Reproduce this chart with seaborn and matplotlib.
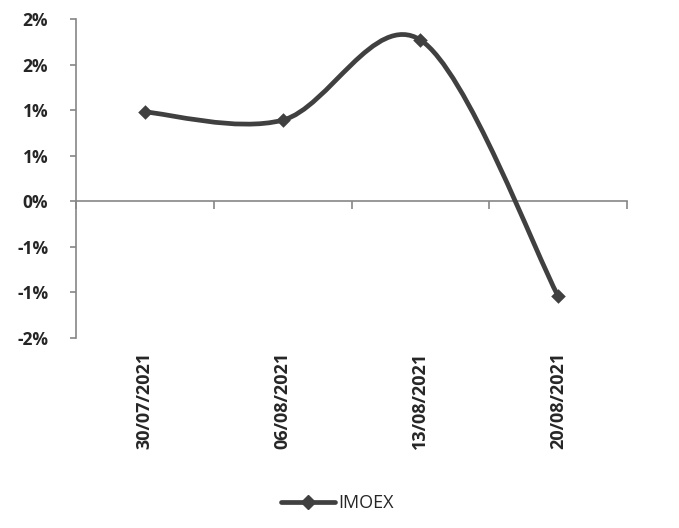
import numpy as np
import matplotlib
matplotlib.use("Agg")
import matplotlib.pyplot as plt
import seaborn as sns
from matplotlib.path import Path
from matplotlib.patches import PathPatch
from matplotlib.lines import Line2D
from matplotlib.ticker import FuncFormatter, FixedLocator

dates = ["30/07/2021", "06/08/2021", "13/08/2021", "20/08/2021"]
imoex = [0.98, 0.89, 1.77, -1.04]   # weekly change, %
series_name = "IMOEX"
y_ticks = [-1.5, -1.0, -0.5, 0.0, 0.5, 1.0, 1.5, 2.0]

line_color = "#404040"
axis_color = "#868686"

sns.set_theme(style="white")
plt.rcParams["font.family"] = ["Open Sans", "DejaVu Sans"]

fig = plt.figure(figsize=(6.79, 5.28), dpi=100)
ax = fig.add_axes([76 / 679, 1 - 338 / 528, 551 / 679, 319 / 528])

xs = np.arange(len(dates), dtype=float)
ys = np.array(imoex, dtype=float)

# smoothed line like excel: cubic bezier, control points from neighbours
verts = [(xs[0], ys[0])]
codes = [Path.MOVETO]
n = len(xs)
for i in range(n - 1):
    p0 = np.array([xs[max(i - 1, 0)], ys[max(i - 1, 0)]])
    p1 = np.array([xs[i], ys[i]])
    p2 = np.array([xs[i + 1], ys[i + 1]])
    p3 = np.array([xs[min(i + 2, n - 1)], ys[min(i + 2, n - 1)]])
    c1 = p1 + (p2 - p0) / 6
    c2 = p2 - (p3 - p1) / 6
    verts += [tuple(c1), tuple(c2), tuple(p2)]
    codes += [Path.CURVE4] * 3
ax.add_patch(PathPatch(Path(verts, codes), facecolor="none", edgecolor=line_color,
                       lw=3.4, capstyle="round", joinstyle="round", zorder=3))

sns.scatterplot(x=xs, y=ys, marker="D", s=55, color=line_color, edgecolor=line_color,
                linewidth=0, zorder=4, ax=ax)

ax.set_xlim(-0.5, len(dates) - 0.5)
ax.set_ylim(y_ticks[0], y_ticks[-1])

for s in ["top", "right"]:
    ax.spines[s].set_visible(False)
ax.spines["left"].set_color(axis_color)
ax.spines["left"].set_linewidth(1.2)
ax.spines["bottom"].set_color(axis_color)
ax.spines["bottom"].set_linewidth(1.2)
ax.spines["bottom"].set_position(("data", 0))

def excel_pct(v, pos):
    r = np.sign(v) * np.floor(abs(v) + 0.5 + 1e-9)
    return f"{int(r)}%"

ax.yaxis.set_major_locator(FixedLocator(y_ticks))
ax.yaxis.set_major_formatter(FuncFormatter(excel_pct))
ax.tick_params(axis="y", direction="out", length=4, width=1.2, color=axis_color,
               labelsize=12.5, pad=16, left=True)
for t in ax.get_yticklabels():
    t.set_fontweight("bold")

# x axis at zero: ticks between categories, no labels
ax.set_xticks(np.arange(-0.5, len(dates), 1.0))
ax.set_xticklabels([])
ax.tick_params(axis="x", direction="out", length=6, width=1.2, color=axis_color, bottom=True)

# category labels at the bottom of the plot area
sec = ax.secondary_xaxis("bottom")
sec.set_xticks(xs, labels=dates, rotation=90, fontsize=13, fontweight="bold")
sec.tick_params(length=0, pad=10)
sec.spines["bottom"].set_visible(False)
for t in sec.get_xticklabels():
    t.set_va("top")

ax.set_xlabel("")
ax.set_ylabel("")
ax.grid(False)

handle = Line2D([], [], color=line_color, lw=3.4, marker="D", markersize=7,
                solid_capstyle="round")
fig.legend([handle], [series_name], loc="center", bbox_to_anchor=(0.497, 0.047),
           frameon=False, fontsize=13, handlelength=3.0, handletextpad=0.2,
           numpoints=1)

fig.savefig("out.png", dpi=100, facecolor="white")
